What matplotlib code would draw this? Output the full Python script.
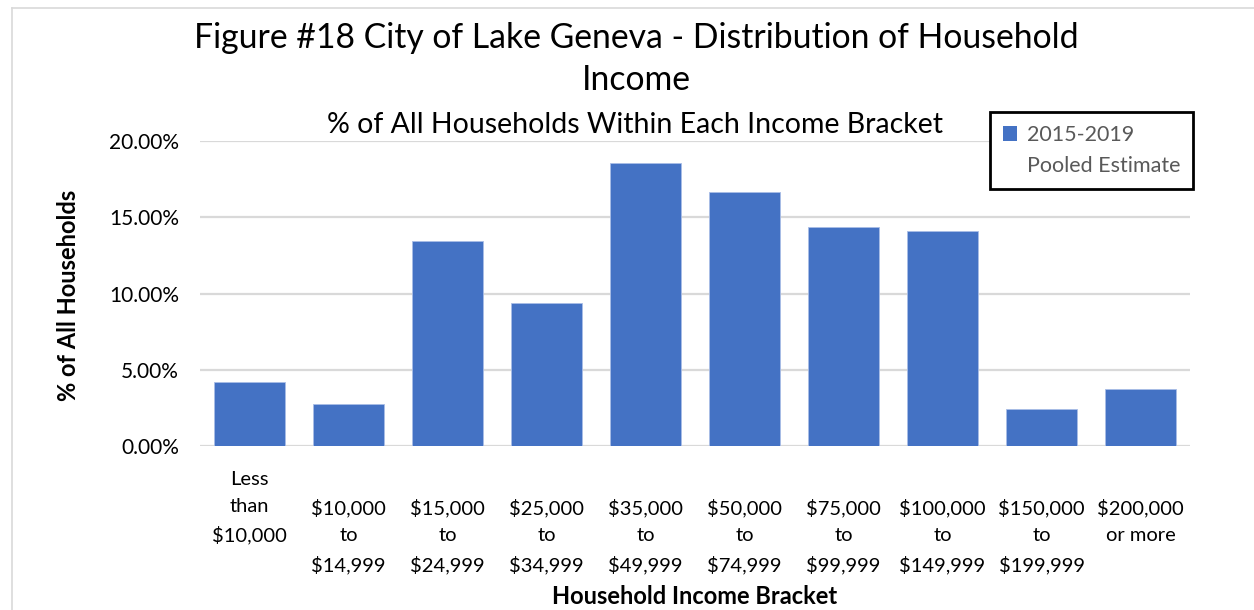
import matplotlib
matplotlib.use("Agg")
import matplotlib.pyplot as plt
from matplotlib.lines import Line2D
from matplotlib.patches import Patch
from matplotlib.ticker import FuncFormatter

categories = ["Less\nthan\n$10,000", "$10,000\nto\n$14,999", "$15,000\nto\n$24,999",
              "$25,000\nto\n$34,999", "$35,000\nto\n$49,999", "$50,000\nto\n$74,999",
              "$75,000\nto\n$99,999", "$100,000\nto\n$149,999", "$150,000\nto\n$199,999",
              "$200,000\nor more"]
values = [0.042, 0.0275, 0.1345, 0.0938, 0.1856, 0.1668, 0.1437, 0.1410, 0.0242, 0.0372]
series_name = ["2015-2019", "Pooled Estimate"]
yticks = [0.0, 0.05, 0.10, 0.15, 0.20]

plt.rcParams['font.family'] = ['Lato', 'DejaVu Sans']
W, H = 1254, 610
fig = plt.figure(figsize=(W / 100, H / 100), dpi=100)
ax = fig.add_axes([200 / W, 1 - 446 / H, 990 / W, 305 / H])

blue = "#4472C4"
x = list(range(len(values)))
ax.bar(x, values, width=0.71, color=blue, edgecolor="#a9bde6", linewidth=0.6, zorder=3)
ax.set_xlim(-0.5, len(values) - 0.5)
ax.set_ylim(0, 0.2)
ax.set_yticks(yticks)
ax.yaxis.set_major_formatter(FuncFormatter(lambda v, p: f"{v * 100:.2f}%"))
ax.grid(axis='y', color="#d9d9d9", linewidth=1.6, zorder=0)
for s in ax.spines.values():
    s.set_visible(False)
ax.tick_params(axis='both', length=0, colors="black")
ax.tick_params(axis='y', pad=15, labelsize=15)
ax.tick_params(axis='x', pad=18, labelsize=14.5)

labels = [categories[0]] + ["\n" + c for c in categories[1:]]
ax.set_xticks(x)
ax.set_xticklabels(labels, linespacing=1.7, va='top', ha='center')

fig.text(636 / W, 1 - 38 / H, "Figure #18 City of Lake Geneva - Distribution of Household",
         ha='center', va='center', fontsize=24.3)
fig.text(636 / W, 1 - 80 / H, "Income", ha='center', va='center', fontsize=24.3)
fig.text(635 / W, 1 - 125 / H, "% of All Households Within Each Income Bracket",
         ha='center', va='center', fontsize=20.5)
fig.text(69 / W, 1 - 295 / H, "% of All Households", rotation=90, ha='center', va='center',
         fontsize=17, fontweight='bold')
fig.text(695 / W, 1 - 597 / H, "Household Income Bracket", ha='center', va='center',
         fontsize=17, fontweight='bold')

handles = [Patch(facecolor=blue, edgecolor='none'), Patch(facecolor='none', edgecolor='none')]
leg = fig.legend(handles, series_name, loc='upper left',
                 bbox_to_anchor=(990 / W, 1 - 112 / H), fontsize=15.5,
                 frameon=True, fancybox=False, framealpha=1, handlelength=0.65, handleheight=0.65,
                 handletextpad=0.45, borderpad=0.6, labelspacing=0.5,
                 borderaxespad=0, labelcolor="#595959")
leg.get_frame().set_edgecolor("black")
leg.get_frame().set_linewidth(2)

# chart frame border (partially visible)
fig.add_artist(Line2D([12 / W, 1.0], [1 - 8 / H, 1 - 8 / H], color="#d9d9d9", linewidth=1.2))
fig.add_artist(Line2D([12 / W, 12 / W], [0, 1 - 8 / H], color="#d9d9d9", linewidth=1.2))

fig.savefig("out.png", dpi=100, facecolor="white")
